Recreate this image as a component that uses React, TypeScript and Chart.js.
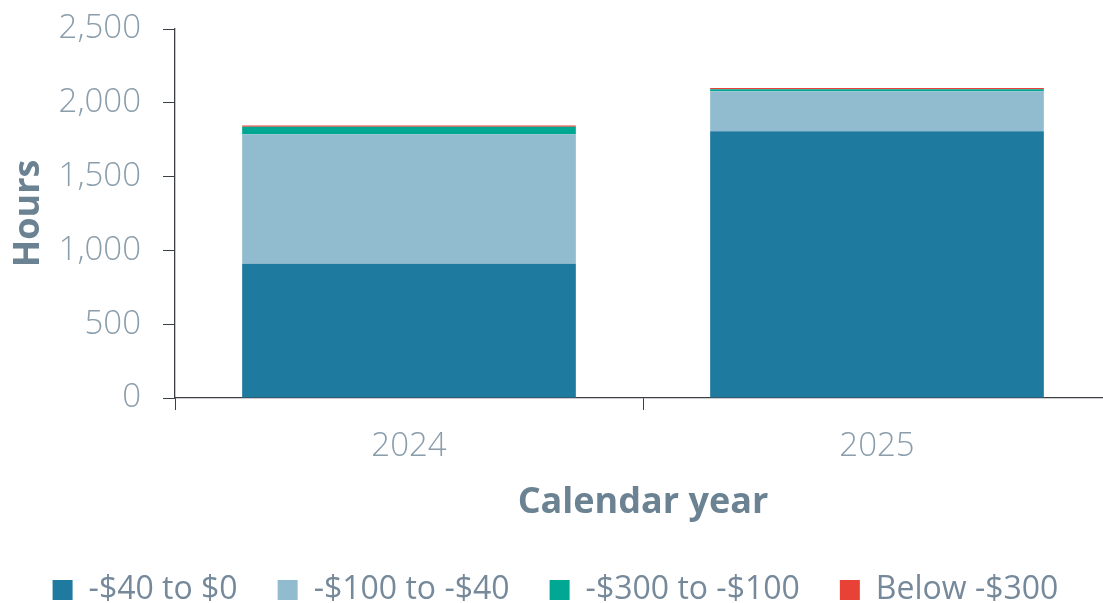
import React, { useEffect, useRef } from "react";
import { Chart, registerables } from "chart.js";

Chart.register(...registerables);

const categories = ["2024", "2025"];
const seriesNames = ["-$40 to $0", "-$100 to -$40", "-$300 to -$100", "Below -$300"];
const band40to0 = [910, 1807];
const band100to40 = [877, 272];
const band300to100 = [50, 13];
const bandBelow300 = [10, 9];
const yTicks = [0, 500, 1000, 1500, 2000, 2500];

const colors = ["#1f7a9f", "#91bccf", "#00a894", "#e84236"];
const tickColor = "#8a9dab";
const titleColor = "#6b8292";
const lineColor = "#3c3f44";
const FONT = "'Open Sans', 'Noto Sans', sans-serif";

export default function App() {
  const ref = useRef<HTMLCanvasElement | null>(null);
  useEffect(() => {
    if (!ref.current) return;
    const values = [band40to0, band100to40, band300to100, bandBelow300];
    const chart = new Chart(ref.current, {
      type: "bar",
      data: {
        labels: categories,
        datasets: seriesNames.map((name, i) => ({
          label: name,
          data: values[i],
          backgroundColor: colors[i],
          borderWidth: 0,
          categoryPercentage: 1,
          barPercentage: 0.713,
        })),
      },
      options: {
        animation: false,
        responsive: false,
        layout: { padding: { top: 29, right: 9, bottom: -13, left: 0 } },
        plugins: {
          tooltip: { enabled: false },
          legend: {
            position: "bottom",
            labels: {
              color: "#75899a",
              font: { family: FONT, size: 32, weight: 400 },
              boxWidth: 20,
              boxHeight: 20,
              padding: 40,
            },
          },
        },
        scales: {
          x: {
            stacked: true,
            afterFit: (s: any) => { s.height = 136; s.paddingLeft = 0; s.paddingRight = 0; },
            border: { display: true, color: lineColor, width: 1.3 },
            grid: { display: true, drawOnChartArea: false, drawTicks: true, tickLength: 12, color: lineColor, offset: true },
            ticks: { color: tickColor, font: { family: FONT, size: 33, weight: 300 }, padding: 17 },
            title: { display: true, text: "Calendar year", color: titleColor, font: { family: FONT, size: 36, weight: 700 }, padding: { top: 0, bottom: 10 } },
          },
          y: {
            stacked: true,
            min: 0,
            max: 2500,
            afterFit: (s: any) => { s.width = 175; s.paddingTop = 0; s.paddingBottom = 0; },
            afterBuildTicks: (s: any) => { s.ticks = yTicks.map((v) => ({ value: v })); },
            border: { display: true, color: lineColor, width: 1.3 },
            grid: { display: true, drawOnChartArea: false, drawTicks: true, tickLength: 12, color: lineColor },
            ticks: {
              color: tickColor,
              font: { family: FONT, size: 33, weight: 300 },
              padding: 22,
              callback: (v: any) => Number(v).toLocaleString("en-US"),
            },
            title: { display: true, text: "Hours", color: titleColor, font: { family: FONT, size: 36, weight: 700 }, padding: { top: 7, bottom: 0 } },
          },
        },
      },
    });
    return () => chart.destroy();
  }, []);
  return (
    <canvas
      ref={ref}
      width={1120}
      height={603}
      style={{ position: "fixed", left: 0, top: 0, width: 1120, height: 603 }}
    />
  );
}
